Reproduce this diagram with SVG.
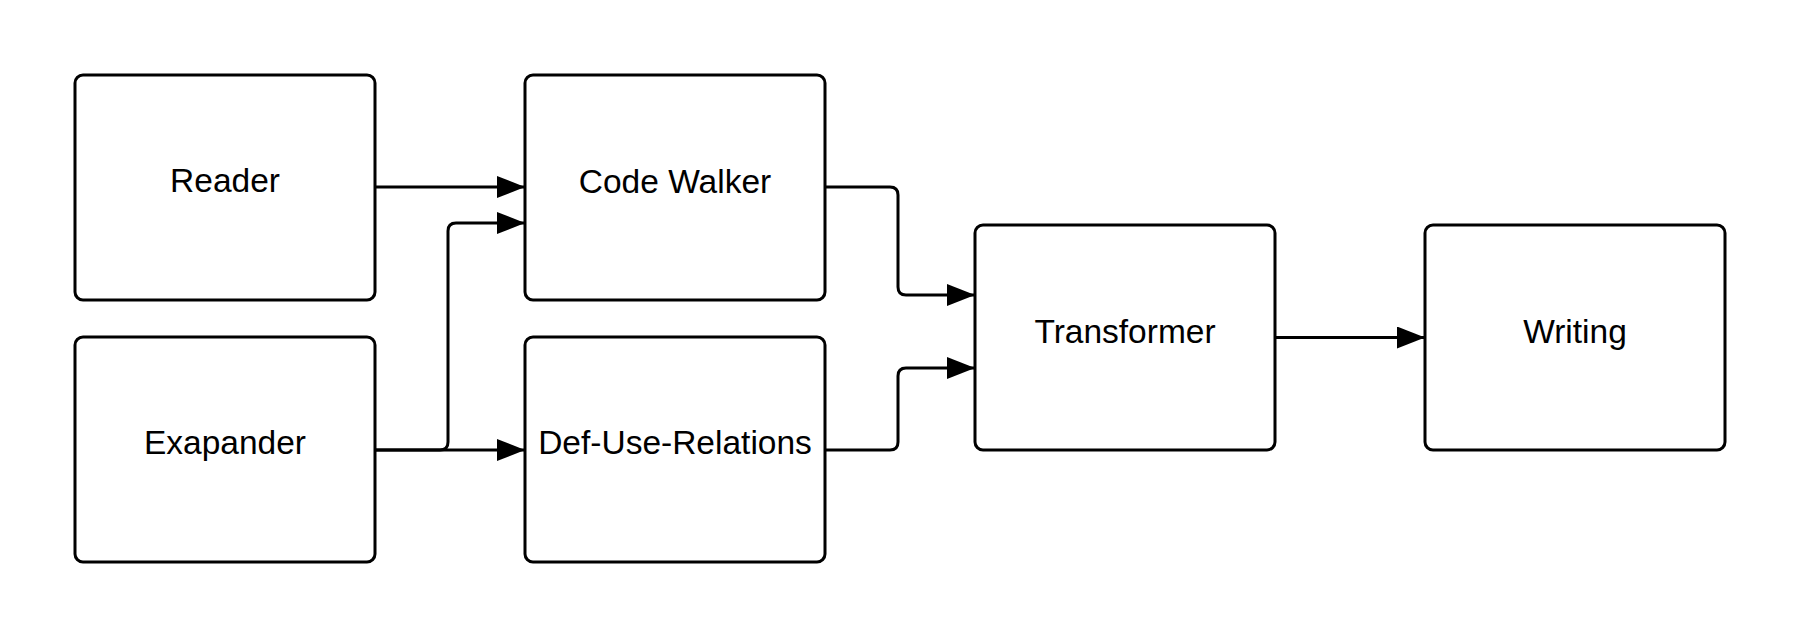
<svg xmlns="http://www.w3.org/2000/svg" width="1800" height="638" viewBox="0 0 1800 638">
  <style>
    .box { fill: #ffffff; stroke: #000000; stroke-width: 3; }
    .label { font-family: "Liberation Sans", Arial, sans-serif; font-size: 33.5px; fill: #000000; text-anchor: middle; }
    .conn { fill: none; stroke: #000000; stroke-width: 3; }
  </style>
  <defs>
    <marker id="arrow" markerUnits="userSpaceOnUse" markerWidth="30" markerHeight="24" refX="28" refY="11" orient="auto">
      <path d="M0,0 L28,11 L0,22 Z" fill="#000000"/>
    </marker>
  </defs>
  <rect width="1800" height="638" fill="#ffffff"/>

  <g id="connectors">
    <path class="conn" d="M375,187 H525" marker-end="url(#arrow)"/>
    <path class="conn" d="M375,450 H440 Q448,450 448,442 V231 Q448,223 456,223 H525" marker-end="url(#arrow)"/>
    <path class="conn" d="M375,450 H525" marker-end="url(#arrow)"/>
    <path class="conn" d="M825,187 H890 Q898,187 898,195 V287 Q898,295 906,295 H975" marker-end="url(#arrow)"/>
    <path class="conn" d="M825,450 H890 Q898,450 898,442 V376 Q898,368 906,368 H975" marker-end="url(#arrow)"/>
    <path class="conn" d="M1275,337.5 H1425" marker-end="url(#arrow)"/>
  </g>

  <g id="reader">
    <rect class="box" x="75" y="75" width="300" height="225" rx="8"/>
    <text class="label" x="225" y="192">Reader</text>
  </g>
  <g id="exapander">
    <rect class="box" x="75" y="337" width="300" height="225" rx="8"/>
    <text class="label" x="225" y="454">Exapander</text>
  </g>
  <g id="code-walker">
    <rect class="box" x="525" y="75" width="300" height="225" rx="8"/>
    <text class="label" x="675" y="193">Code Walker</text>
  </g>
  <g id="def-use-relations">
    <rect class="box" x="525" y="337" width="300" height="225" rx="8"/>
    <text class="label" x="675" y="454">Def-Use-Relations</text>
  </g>
  <g id="transformer">
    <rect class="box" x="975" y="225" width="300" height="225" rx="8"/>
    <text class="label" x="1125" y="343">Transformer</text>
  </g>
  <g id="writing">
    <rect class="box" x="1425" y="225" width="300" height="225" rx="8"/>
    <text class="label" x="1575" y="343">Writing</text>
  </g>
</svg>
